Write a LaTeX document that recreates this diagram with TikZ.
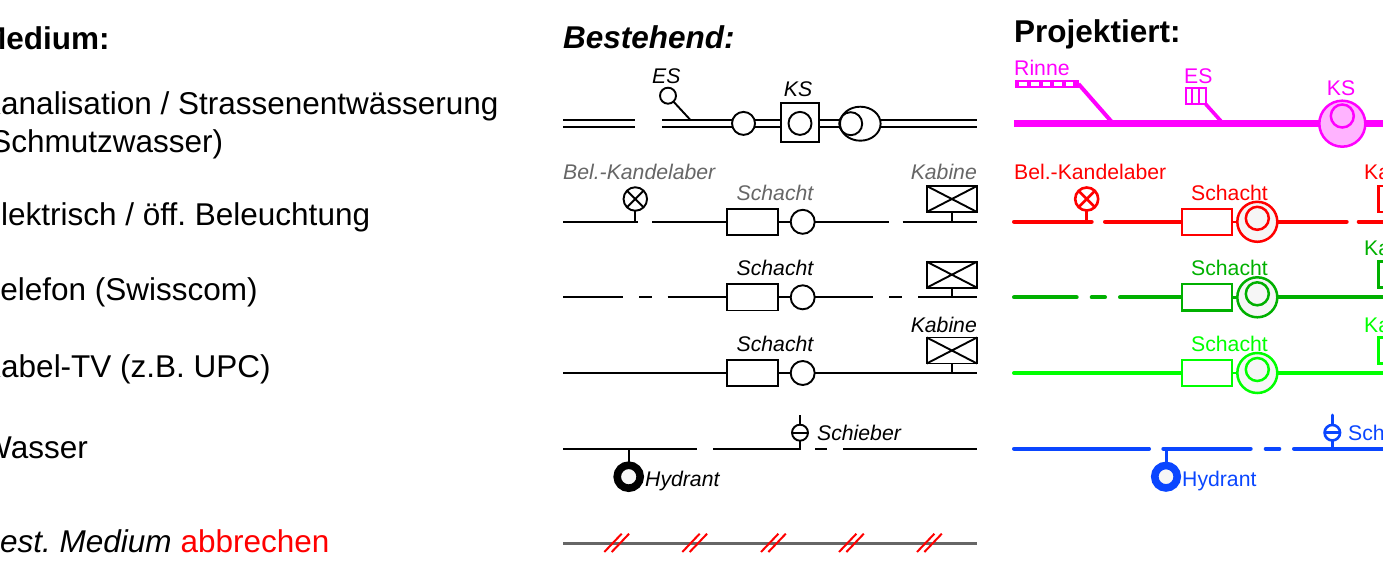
\documentclass[tikz,border=0pt]{standalone}
\usepackage{fontspec}
\setmainfont{Liberation Sans}
\usetikzlibrary{shapes.geometric}
\frenchspacing
\definecolor{gr}{HTML}{666666}
\definecolor{pk}{HTML}{FF00FF}
\definecolor{pkf}{HTML}{FFB3FF}
\definecolor{rd}{HTML}{FF0000}
\definecolor{gn}{HTML}{00B000}
\definecolor{lm}{HTML}{00FF00}
\definecolor{bl}{HTML}{0A46FF}
\definecolor{lt}{HTML}{F6F6F6}
\newcounter{segc}
% #1 style, #2 x1, #3 x2, #4 y
\newcommand{\seg}[4]{\stepcounter{segc}%
  \coordinate (s\arabic{segc}a) at (#2,#4);%
  \coordinate (s\arabic{segc}b) at (#3,#4);%
  \draw[#1] (s\arabic{segc}a) -- (s\arabic{segc}b);}
% black manhole group: #1 name, #2 y
\newcommand{\bschacht}[2]{%
  \node[boxn,minimum width=51.3pt,minimum height=26.3pt,line width=1.9pt] (#1box) at (752.3,#2) {};
  \node[cir,minimum size=24pt,line width=1.9pt] (#1c) at (802.7,#2) {};
  \draw[bk] (#1box) -- (#1c);}
% coloured manhole group: #1 name, #2 y, #3 colour
\newcommand{\cschacht}[3]{%
  \node[boxn,minimum width=50.6pt,minimum height=26.3pt,line width=2.1pt,draw=#3] (#1box) at (1207,#2) {};
  \node[cir,minimum size=40pt,line width=2.5pt,draw=#3,fill=lt] (#1c) at (1257.3,#2) {};
  \node[cir,minimum size=23pt,line width=2.5pt,draw=#3,fill=lt] (#1i) at (1257.3,#2-3.5) {};
  \draw[#3,line width=2.4pt] (#1box) -- (#1c);}
% kabine: #1 name, #2 x-left, #3 width, #4 top y, #5 y of line
\newcommand{\kab}[5]{%
  \node[boxn,minimum width=#3pt,minimum height=26pt,line width=1.9pt,anchor=north west] (#1) at (#2,#4) {};
  \coordinate (#1f) at (#1.south |- 0,#5);
  \draw[bk] (#1.north west) -- (#1.south east) (#1.south west) -- (#1.north east);
  \draw[bk] (#1.south) -- (#1f);}
\tikzset{
  bk/.style={black,line width=1.9pt},
  col/.style={line width=4pt,line cap=round},
  cir/.style={circle,draw,fill=white,inner sep=0pt,outer sep=0pt},
  boxn/.style={rectangle,draw,fill=white,inner sep=0pt,outer sep=0pt},
  big/.style={inner sep=0pt,anchor=base west,font=\fontsize{31.5}{36}\selectfont},
  lbl/.style={inner sep=0pt,anchor=base west,font=\fontsize{21.2}{24}\selectfont},
  lblc/.style={inner sep=0pt,anchor=base,font=\fontsize{21.2}{24}\selectfont},
  lblr/.style={inner sep=0pt,anchor=base east,font=\fontsize{21.2}{24}\selectfont},
  it/.style={font=\fontsize{21.2}{24}\selectfont\itshape},
}
\begin{document}
\begin{tikzpicture}[x=1pt,y=-1pt]
\useasboundingbox (0,0) rectangle (1383,585);
\clip (0,0) rectangle (1383,585);
% left column
\node[big,font=\fontsize{31.5}{36}\selectfont\bfseries] (tm) at (-20,49.5) {Medium:};
\node[big] (t1) at (-20,114.3) {Kanalisation / Strassenentwässerung};
\node[big] (t2) at (-20.3,152.7) {(Schmutzwasser)};
\node[big] (t3) at (-20,226) {Elektrisch / öff. Beleuchtung};
\node[big] (t4) at (-19,300) {T\kern0pt elefon (Swisscom)};
\node[big] (t5) at (-20,377) {Kabel-TV (z.B. UPC)};
\node[big] (t6) at (-18,458.5) {Wasser};
\node[big] (t7) at (-21,552.3) {\itshape Best. Medium \upshape\textcolor{rd}{abbrechen}};
% headings
\node[big,font=\fontsize{31.5}{36}\selectfont\bfseries\itshape] (hb) at (563,49) {Bestehend:};
\node[big,font=\fontsize{31.5}{36}\selectfont\bfseries] (hp) at (1014,43) {Projektiert:};
% --- Bestehend row 1
\seg{bk}{563}{635}{119.7}
\seg{bk}{563}{635}{127}
\seg{bk}{662}{977}{119.7}
\seg{bk}{662}{977}{127}
\node[cir,minimum size=23pt,line width=1.9pt] (a1) at (743.5,123.4) {};
\node[boxn,minimum size=38.4pt,line width=1.9pt] (ks) at (800,122.5) {};
\node[cir,minimum size=23pt,line width=1.9pt] (ksc) at (800,123.4) {};
\node[ellipse,draw,fill=white,inner sep=0pt,outer sep=0pt,minimum width=40.6pt,minimum height=34pt,line width=1.9pt] (ov) at (860.3,123.7) {};
\node[cir,minimum size=23pt,line width=1.9pt,fill=none] (ovc) at (850.7,123.7) {};
\node[cir,minimum size=16pt,line width=1.9pt] (es) at (668,95.7) {};
\coordinate (esf) at (690,119.5);
\draw[bk] (es) -- (esf);
\node[lbl,it] (esl) at (652,84) {ES};
\node[lblc,it] (ksl) at (798,97) {KS};
% row 2
\seg{bk}{563}{638}{221.7}
\seg{bk}{652}{730}{221.7}
\seg{bk}{810}{889}{221.7}
\seg{bk}{902.7}{977}{221.7}
\bschacht{r2}{221.8}
\node[cir,minimum size=23.5pt,line width=1.9pt] (la) at (635.3,199) {};
\draw[bk] (la.north west) -- (la.south east) (la.south west) -- (la.north east);
\coordinate (laf) at (635.3,221.7);
\draw[bk] (la) -- (laf);
\kab{k2}{926.7}{50.3}{186}{221.7}
\node[lbl,it,text=gr] (bkl) at (563,180) {Bel.-Kandelaber};
\node[lblc,it,text=gr] (s2) at (775,200.7) {Schacht};
\node[lblr,it,text=gr] (k2l) at (977,180) {Kabine};
% row 3
\seg{bk}{563}{622.7}{297.3}
\seg{bk}{639.3}{652}{297.3}
\seg{bk}{667.7}{730}{297.3}
\seg{bk}{810}{873.3}{297.3}
\seg{bk}{889.3}{902}{297.3}
\seg{bk}{918.3}{977}{297.3}
\bschacht{r3}{297.3}
\kab{k3}{926.7}{50.3}{261.7}{297.3}
\node[lblc,it] (s3) at (775,275.7) {Schacht};
% row 4
\seg{bk}{563}{730}{373}
\seg{bk}{810}{977}{373}
\bschacht{r4}{373}
\kab{k4}{926.7}{50.3}{337.5}{373}
\node[lblc,it] (s4) at (775,351.7) {Schacht};
\node[lblr,it] (k4l) at (977,332) {Kabine};
% row 5
\seg{bk}{563}{696.7}{448.7}
\seg{bk}{713.3}{800.8}{448.7}
\seg{bk}{815}{827.3}{448.7}
\seg{bk}{843.3}{977}{448.7}
\coordinate (hyt) at (628.7,448.7);
\node[circle,draw=black,fill=lt,line width=7.6pt,minimum size=23pt,inner sep=0pt,outer sep=0pt] (hy) at (628.7,476.7) {};
\draw[bk] (hyt) -- (hy.north);
\node[lbl,it] (hyl) at (645,486.7) {Hydrant};
\coordinate (vb) at (800,448.7);
\coordinate (vt) at (800,415);
\draw[bk] (vb) -- (vt);
\node[cir,minimum size=16pt,line width=1.9pt] (v) at (800,432.7) {};
\draw[bk] (v.west) -- (v.east);
\node[lbl,it] (vl) at (817,440.7) {Schieber};
% abbrechen row
\seg{draw=gr,line width=3pt}{563}{977}{543}
\foreach \i/\x in {1/604.3,2/682.3,3/761,4/839,5/917}{
  \coordinate (ha\i) at (\x,552); \coordinate (hb\i) at (\x+17.4,533.7);
  \coordinate (hc\i) at (\x+7.4,552); \coordinate (hd\i) at (\x+24.8,533.7);
  \draw[rd,line width=2pt] (ha\i) -- (hb\i) (hc\i) -- (hd\i);
}
% --- Projektiert magenta
\seg{pk,line width=7pt}{1014}{1383}{123.3}
\node[inner sep=0pt,minimum width=62pt,minimum height=6pt,draw=pk,line width=2pt,anchor=north west] (ri) at (1014.5,80) {};
\foreach \x in {1017,1029,1041,1052,1064,1075}{\draw[pk,line width=3.4pt] (\x,80) -- (\x,86);}
\coordinate (rif) at (1112.7,123);
\draw[pk,line width=4pt] (ri.east) -- (rif);
\node[lbl,text=pk] (ril) at (1014,75.7) {Rinne};
\node[boxn,minimum width=20pt,minimum height=16pt,line width=2.2pt,draw=pk,anchor=north west] (pes) at (1185.6,88) {};
\draw[pk,line width=2.2pt] (1192.3,88) -- (1192.3,104) (1199,88) -- (1199,104);
\coordinate (pesf) at (1222.7,123);
\draw[pk,line width=3.6pt] (pes.south east) -- (pesf);
\node[lbl,text=pk] (pesl) at (1184,83.3) {ES};
\node[cir,minimum size=46pt,line width=2.5pt,draw=pk,fill=pkf] (pks) at (1342.3,123.7) {};
\node[cir,minimum size=23pt,line width=2.5pt,draw=pk,fill=pkf] (pksi) at (1342.3,116) {};
\node[lblc,text=pk] (pksl) at (1341,96) {KS};
% red
\seg{rd,col}{1014}{1091.7}{221.7}
\seg{rd,col}{1105}{1183}{221.7}
\seg{rd,col}{1278}{1346.7}{221.7}
\seg{rd,col}{1358.7}{1383}{221.7}
\cschacht{pr}{221.8}{rd}
\node[cir,minimum size=23pt,line width=2.6pt,draw=rd] (pla) at (1086.7,199) {};
\draw[rd,line width=2.6pt] (pla.north west) -- (pla.south east) (pla.south west) -- (pla.north east);
\coordinate (plaf) at (1086.7,221.7);
\draw[rd,line width=3.2pt] (pla) -- (plaf);
\node[boxn,minimum width=50pt,minimum height=26pt,line width=2.6pt,draw=rd,anchor=north west] (pk2) at (1378.5,186) {};
\node[lbl,text=rd] (pbkl) at (1014,180) {Bel.-Kandelaber};
\node[lblc,text=rd] (ps2) at (1229.5,200.7) {Schacht};
\node[lbl,text=rd] (pk2l) at (1364,180) {Kabine};
% green
\seg{gn,col}{1014}{1076.7}{297.3}
\seg{gn,col}{1091.7}{1105}{297.3}
\seg{gn,col}{1120}{1183}{297.3}
\seg{gn,col}{1278}{1383}{297.3}
\cschacht{pg}{297.3}{gn}
\node[boxn,minimum width=50pt,minimum height=26pt,line width=2.6pt,draw=gn,anchor=north west] (pk3) at (1378.5,261.7) {};
\node[lblc,text=gn] (ps3) at (1229.5,275.7) {Schacht};
\node[lbl,text=gn] (pk3l) at (1364,256) {Kabine};
% lime
\seg{lm,col}{1014}{1183}{373}
\seg{lm,col}{1278}{1383}{373}
\cschacht{pl}{373}{lm}
\node[boxn,minimum width=50pt,minimum height=26pt,line width=2.6pt,draw=lm,anchor=north west] (pk4) at (1378.5,337.5) {};
\node[lblc,text=lm] (ps4) at (1229.5,351.7) {Schacht};
\node[lbl,text=lm] (pk4l) at (1364,332) {Kabine};
% blue
\seg{bl,col}{1014}{1149}{448.7}
\seg{bl,col}{1163.3}{1250.7}{448.7}
\seg{bl,col}{1265.7}{1279.3}{448.7}
\seg{bl,col}{1294}{1383}{448.7}
\coordinate (phyt) at (1166.7,448.7);
\node[circle,draw=bl,fill=lt,line width=7.6pt,minimum size=22.5pt,inner sep=0pt,outer sep=0pt] (phy) at (1166,476.7) {};
\draw[bl,line width=3pt] (phyt) -- (phy.north -| phyt);
\node[lbl,text=bl] (phyl) at (1182,486.7) {Hydrant};
\coordinate (pvb) at (1332.3,448.7);
\coordinate (pvt) at (1332.3,415);
\draw[bl,line width=3pt,line cap=round] (pvb) -- (pvt);
\node[cir,minimum size=15.5pt,line width=2.6pt,draw=bl] (pv) at (1332.3,432.7) {};
\draw[bl,line width=2.6pt] (pv.west) -- (pv.east);
\node[lbl,text=bl] (pvl) at (1348,440.7) {Schieber};
\end{tikzpicture}
\end{document}
